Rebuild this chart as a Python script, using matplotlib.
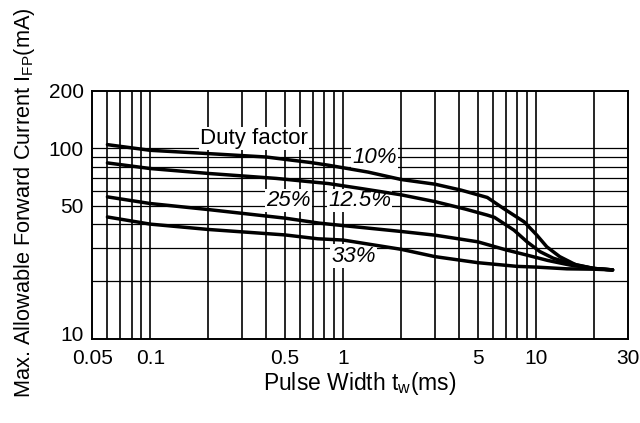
import matplotlib
matplotlib.use("Agg")
import matplotlib.pyplot as plt
import matplotlib.ticker as ticker
import matplotlib.transforms as mtransforms

plt.rcParams.update({
    "font.family": "Liberation Sans",
    "font.size": 15,
    "mathtext.fontset": "custom",
    "mathtext.rm": "Liberation Sans",
})

# pulse width (ms) / max forward current (mA)
tw_10 = [0.06, 0.1, 0.2, 0.4, 0.5, 0.68, 0.84, 1.35, 2, 3, 4.1, 5.6, 6.8, 8.7, 10.1, 11.4, 13.3, 16.2, 20, 25]
if_10 = [104.5, 97.6, 93.8, 90, 87.5, 84.2, 81.5, 75, 68.6, 64.8, 60.3, 55.2, 48.3, 41.1, 35.1, 30.4, 27, 24.4, 23.4, 23]

tw_125 = [0.06, 0.1, 0.2, 0.45, 0.84, 1.24, 2, 3, 4.3, 5.6, 6.1, 7.7, 9, 10.5, 12.3, 15, 20, 25]
if_125 = [83.8, 78.3, 73.8, 69.5, 65.3, 61.5, 57, 52.5, 48, 44.6, 43.4, 37.2, 32.3, 28.7, 26.5, 24.9, 23.4, 23]

tw_25 = [0.06, 0.1, 0.2, 0.5, 0.75, 1, 2, 3, 5, 7, 9, 11.5, 15, 20, 25]
if_25 = [55.6, 51.3, 47.7, 43, 40.5, 39.3, 36.6, 35, 32.3, 29.3, 27.5, 25.8, 24.4, 23.4, 23]

tw_33 = [0.06, 0.1, 0.2, 0.5, 0.74, 1, 2, 3, 5, 8, 10, 14.5, 20, 25]
if_33 = [43.6, 40, 37.5, 35.1, 33.5, 33, 29.5, 27, 25.1, 24, 23.8, 23.3, 23.2, 23]

x_ticks = [0.05, 0.1, 0.5, 1, 5, 10, 30]
x_ticklabels = ["0.05", "0.1", "0.5", "1", "5", "10", "30"]
y_ticks = [10, 50, 100, 200]
y_ticklabels = ["10", "50", "100", "200"]

# grid positions
x_grid = [0.06, 0.07, 0.08, 0.09, 0.1, 0.2, 0.3, 0.4, 0.5, 0.6, 0.7, 0.8, 0.9,
          1, 2, 3, 4, 5, 6, 7, 8, 9, 10, 20]
y_grid = [20, 30, 40, 50, 60, 70, 80, 90, 100]

fig = plt.figure(figsize=(6.4, 4.23), dpi=100)
ax = fig.add_axes([0.144, 0.199, 0.837, 0.586])

ax.set_xscale("log")
ax.set_yscale("log")
ax.set_xlim(0.05, 30)
ax.set_ylim(10, 200)

for xv in x_grid:
    ax.axvline(xv, color="black", lw=1.2, zorder=1)
for yv in y_grid:
    ax.axhline(yv, color="black", lw=0.9, zorder=1)

for tw, ifp in [(tw_10, if_10), (tw_125, if_125), (tw_25, if_25), (tw_33, if_33)]:
    ax.plot(tw, ifp, color="black", lw=2.5, solid_capstyle="round",
            solid_joinstyle="round", zorder=3)

# labels hide the grid behind them but sit under the curves
box = dict(facecolor="white", edgecolor="none", pad=0.8)
ax.text(0.344, 113, "Duty factor", ha="center", va="center", fontsize=16, bbox=box, zorder=2)
ax.text(1.46, 90, "10%", ha="center", va="center", fontsize=16, style="italic", bbox=box, zorder=2)
ax.text(1.22, 53, "12.5%", ha="center", va="center", fontsize=16, style="italic", bbox=box, zorder=2)
ax.text(0.52, 53, "25%", ha="center", va="center", fontsize=16, style="italic", bbox=box, zorder=2)
ax.text(1.13, 27.2, "33%", ha="center", va="center", fontsize=16, style="italic", bbox=box, zorder=2)

ax.xaxis.set_major_locator(ticker.FixedLocator(x_ticks))
ax.xaxis.set_major_formatter(ticker.FixedFormatter(x_ticklabels))
ax.xaxis.set_minor_locator(ticker.NullLocator())
ax.yaxis.set_major_locator(ticker.FixedLocator(y_ticks))
ax.yaxis.set_major_formatter(ticker.FixedFormatter(y_ticklabels))
ax.yaxis.set_minor_locator(ticker.NullLocator())
ax.tick_params(axis="both", length=0, labelsize=15)
ax.tick_params(axis="x", pad=7)
ax.tick_params(axis="y", pad=6)

# the "10" label sits a little above the bottom axis line
fig.canvas.draw()
lift = mtransforms.ScaledTranslation(0, 5 / 100, fig.dpi_scale_trans)
ylabels = ax.get_yticklabels()
ylabels[0].set_transform(ylabels[0].get_transform() + lift)

for sp in ax.spines.values():
    sp.set_linewidth(1.4)
    sp.set_color("black")

ax.set_xlabel(r"Pulse Width t$_\mathregular{w}$(ms)", fontsize=16.5, labelpad=2)
fig.text(0.038, 0.52, r"Max. Allowable Forward Current I$_\mathregular{FP}$(mA)",
         rotation=90, ha="center", va="center", fontsize=15.7)

fig.savefig("out.png", dpi=100)
